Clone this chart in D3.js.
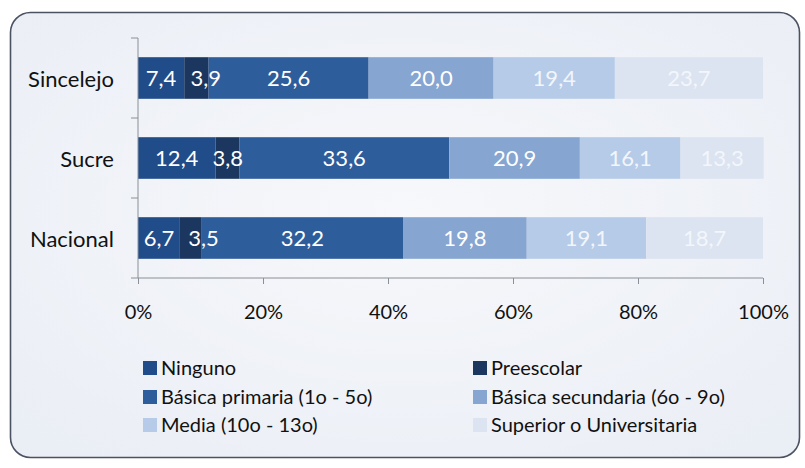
<!DOCTYPE html>
<html><head><meta charset="utf-8">
<script src="https://cdn.jsdelivr.net/npm/d3@7"></script>
<style>body{margin:0;background:#fff}svg{display:block}text{font-family:Lato,"Open Sans",sans-serif}</style>
</head><body>
<svg id="c" width="805" height="468"></svg>
<script>
const categories = ["Sincelejo", "Sucre", "Nacional"];
const seriesNames = ["Ninguno", "Preescolar", "Básica primaria (1o - 5o)", "Básica secundaria (6o - 9o)", "Media (10o - 13o)", "Superior o Universitaria"];
const ninguno = [7.4, 12.4, 6.7];
const preescolar = [3.9, 3.8, 3.5];
const primaria = [25.6, 33.6, 32.2];
const secundaria = [20.0, 20.9, 19.8];
const media = [19.4, 16.1, 19.1];
const superior = [23.7, 13.3, 18.7];
const tickValues = [0, 20, 40, 60, 80, 100];
const colors = ["#214c8a", "#1b365f", "#2e5d9c", "#86a5d1", "#b6cbe7", "#dce4f1"];
const labelColors = ["#ffffff", "#ffffff", "#ffffff", "#ffffff", "#f2f6fc", "#f3f6fb"];

const seriesValues = [ninguno, preescolar, primaria, secundaria, media, superior];
const svg = d3.select("#c");

const defs = svg.append("defs");
const g1 = defs.append("radialGradient").attr("id", "bg").attr("cx", "50%").attr("cy", "45%").attr("r", "70%");
g1.append("stop").attr("offset", "0%").attr("stop-color", "#f7f8fb");
g1.append("stop").attr("offset", "100%").attr("stop-color", "#eaeef5");

svg.append("rect").attr("x", 10.5).attr("y", 12.5).attr("width", 789).attr("height", 445)
  .attr("rx", 20).attr("ry", 20).attr("fill", "url(#bg)").attr("stroke", "#4b5262").attr("stroke-width", 1.6);

const x = d3.scaleLinear().domain([0, 100]).range([138, 763]);
const y = d3.scaleBand().domain(categories).range([38, 278]).paddingInner(0.48).paddingOuter(0.24);

const rows = categories.map((c, i) => {
  const o = {cat: c};
  seriesNames.forEach((s, j) => o[s] = seriesValues[j][i]);
  return o;
});
const stack = d3.stack().keys(seriesNames)(rows);

const layers = svg.append("g").selectAll("g").data(stack).join("g")
  .attr("fill", (d, i) => colors[i]);
layers.selectAll("rect").data(d => d).join("rect")
  .attr("x", d => x(d[0])).attr("width", d => x(d[1]) - x(d[0]))
  .attr("y", d => y(d.data.cat)).attr("height", y.bandwidth());

const fmt = v => v.toFixed(1).replace(".", ",");
const labelG = svg.append("g");
const lastRight = {};
stack.forEach((layer, i) => {
  layer.forEach(d => {
    const t = labelG.append("text")
      .attr("y", y(d.data.cat) + y.bandwidth() / 2)
      .attr("dy", "0.36em").attr("text-anchor", "middle")
      .attr("fill", labelColors[i]).attr("font-size", 22)
      .text(fmt(d[1] - d[0]));
    const w = t.node().getComputedTextLength();
    let cx = (x(d[0]) + x(d[1])) / 2;
    const prev = lastRight[d.data.cat];
    if (prev !== undefined && cx - w / 2 < prev + 14) cx = prev + 14 + w / 2;
    t.attr("x", cx);
    lastRight[d.data.cat] = cx + w / 2;
  });
});

// y axis
const yAxisG = svg.append("g");
const yEdges = [38, 118, 198, 278];
yAxisG.append("line").attr("x1", 138).attr("x2", 138).attr("y1", 38).attr("y2", 278).attr("stroke", "#8a8f98");
yAxisG.selectAll("line.t").data(yEdges).join("line").attr("class", "t")
  .attr("x1", 131).attr("x2", 138).attr("y1", d => d).attr("y2", d => d).attr("stroke", "#8a8f98");
yAxisG.selectAll("text").data(categories).join("text")
  .attr("x", 114).attr("y", d => y(d) + y.bandwidth() / 2 + 1).attr("dy", "0.36em")
  .attr("text-anchor", "end").attr("font-size", 22).attr("fill", "#111").text(d => d);

// x axis
const xAxis = d3.axisBottom(x).tickValues(tickValues).tickSize(6).tickFormat(d => d + "%");
const xg = svg.append("g").attr("transform", "translate(0,278)").call(xAxis);
xg.select(".domain").attr("stroke", "#8a8f98").attr("d", "M138,0H763");
xg.selectAll(".tick line").attr("stroke", "#8a8f98");
xg.selectAll(".tick text").attr("font-size", 20).attr("fill", "#111").attr("y", 34).attr("dy", "0.36em")
  .attr("font-family", "Lato,'Open Sans',sans-serif");

// legend
const legendPos = seriesNames.map((s, i) => ({s, i, col: i % 2, row: Math.floor(i / 2)}));
const colX = [143, 473];
const rowY = [368, 397, 425];
const lg = svg.append("g").selectAll("g").data(legendPos).join("g")
  .attr("transform", d => `translate(${colX[d.col]},${rowY[d.row]})`);
lg.append("rect").attr("x", 0).attr("y", -7).attr("width", 14).attr("height", 14).attr("fill", d => colors[d.i]);
lg.append("text").attr("x", 18).attr("dy", "0.36em").attr("font-size", 20).attr("fill", "#111").text(d => d.s);
</script>
</body></html>
